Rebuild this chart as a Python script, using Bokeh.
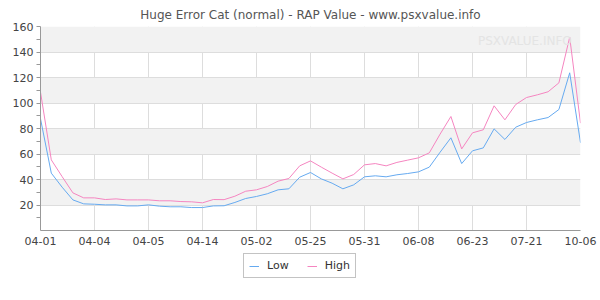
import numpy as np
from bokeh.plotting import figure
from bokeh.layouts import column
from bokeh.models import (Range1d, FixedTicker, Legend, LegendItem, Label, ColumnDataSource)
from bokeh.embed import file_html
from bokeh.resources import INLINE

title_text = "Huge Error Cat (normal) - RAP Value - www.psxvalue.info"
tick_labels = ["04-01", "04-04", "04-05", "04-14", "05-02", "05-25",
               "05-31", "06-08", "06-23", "07-21", "10-06"]
low = [87.6, 45, 34, 24, 20.9, 20.6, 20.1, 20.1, 19.3, 19.3,
       20.1, 19.1, 18.6, 18.6, 18, 18, 19.3, 19.4, 22, 25.1,
       26.7, 28.8, 31.9, 32.7, 41.8, 45.5, 40.5, 37.1, 32.7, 35.8,
       42.1, 42.9, 42.1, 43.7, 44.7, 46, 49.7, 61.4, 72.7, 52.5,
       62.5, 64.8, 79.7, 71.4, 81, 84.7, 86.8, 88.6, 94.9, 123.7,
       68.8]
high = [108.5, 55.4, 42.3, 29.5, 25.6, 25.6, 24.3, 24.8, 24, 24,
        24, 23.3, 23.3, 22.7, 22.5, 21.7, 24.3, 24.2, 26.9, 30.8,
        31.9, 34.5, 38.7, 40.8, 50.7, 54.6, 49.7, 45, 40.5, 43.9,
        51.5, 52.5, 50.7, 53.4, 55.2, 57, 60.9, 75.6, 89.4, 64,
        76.6, 79, 97.8, 86.8, 98.8, 104.3, 106.4, 108.8, 115.8, 151.6,
        84.2]
series_names = ["Low", "High"]
label_step = 5
y_major = [20, 40, 60, 80, 100, 120, 140, 160]
y_minor = [10, 30, 50, 70, 90, 110, 130, 150]

LOW_COLOR = "#66aaf0"
HIGH_COLOR = "#f585c0"
FONT = "DejaVu Sans"

idx = list(range(len(low)))
src = ColumnDataSource(dict(x=idx, low=low, high=high))

p = figure(width=600, height=250, frame_width=540, frame_height=204,
           output_backend="svg", toolbar_location=None,
           x_range=Range1d(0, len(low) - 1), y_range=Range1d(0, 160),
           min_border_left=40, min_border_right=20, min_border_top=26,
           min_border_bottom=20)
p.outline_line_color = None
p.background_fill_color = "white"
p.border_fill_color = "white"

p.title.text = title_text
p.title.align = "center"
p.title.text_font = FONT
p.title.text_font_size = "12px"
p.title.text_font_style = "normal"
p.title.text_color = "#555555"

xt = [i * label_step for i in range(len(tick_labels))]
p.xaxis.ticker = FixedTicker(ticks=xt)
p.xaxis.major_label_overrides = {t: lab for t, lab in zip(xt, tick_labels)}
p.xaxis.major_tick_out = 0
p.xaxis.major_tick_in = 0
p.xaxis.minor_tick_out = 0
p.xaxis.minor_tick_in = 0
p.xaxis.axis_line_color = "#999999"
p.xaxis.major_label_text_font = FONT
p.xaxis.major_label_text_font_size = "11px"
p.xaxis.major_label_text_color = "#444444"
p.xaxis.major_label_standoff = 6

p.yaxis.ticker = FixedTicker(ticks=y_major, minor_ticks=y_minor)
p.yaxis.major_tick_out = 4
p.yaxis.major_tick_in = 0
p.yaxis.minor_tick_out = 4
p.yaxis.minor_tick_in = 0
p.yaxis.axis_line_color = "#999999"
p.yaxis.major_tick_line_color = "#999999"
p.yaxis.minor_tick_line_color = "#999999"
p.yaxis.major_label_text_font = FONT
p.yaxis.major_label_text_font_size = "11px"
p.yaxis.major_label_text_color = "#444444"
p.yaxis.major_label_standoff = 3

p.xgrid.ticker = FixedTicker(ticks=xt)
p.xgrid.grid_line_color = "#dddddd"
p.ygrid.ticker = FixedTicker(ticks=[0] + y_major)
p.ygrid.grid_line_color = "#dddddd"
p.ygrid.band_fill_color = "#f2f2f2"
p.ygrid.band_fill_alpha = 1.0

wm = Label(x=40.5, y=149, text="PSXVALUE.INFO", text_font=FONT,
           text_font_size="12px", text_color="#e4e4e4", text_baseline="middle")
p.add_layout(wm)

p.line("x", "low", source=src, line_color=LOW_COLOR, line_width=1)
p.line("x", "high", source=src, line_color=HIGH_COLOR, line_width=1)

# legend strip below the chart (legend keys only, no visible data)
p2 = figure(width=600, height=50, output_backend="svg", toolbar_location=None,
            x_axis_type=None, y_axis_type=None,
            x_range=Range1d(0, 1), y_range=Range1d(0, 1),
            min_border=0, min_border_left=0, min_border_right=0,
            min_border_top=0, min_border_bottom=0)
p2.outline_line_color = None
p2.xgrid.visible = False
p2.ygrid.visible = False
key_src = ColumnDataSource(dict(x=np.array([np.nan]), y=np.array([np.nan])))
k_low = p2.line("x", "y", source=key_src, line_color=LOW_COLOR, line_width=1)
k_high = p2.line("x", "y", source=key_src, line_color=HIGH_COLOR, line_width=1)

legend = Legend(items=[LegendItem(label=series_names[0], renderers=[k_low]),
                       LegendItem(label=series_names[1], renderers=[k_high])],
                orientation="horizontal", location=(203, 22),
                label_text_font=FONT, label_text_font_size="11px",
                label_text_color="#333333", glyph_width=10, glyph_height=10,
                border_line_color="#888888", padding=5, spacing=18,
                margin=0, label_standoff=8)
p2.add_layout(legend, "center")

open("out.html", "w").write(file_html(column(p, p2, spacing=0), INLINE))
